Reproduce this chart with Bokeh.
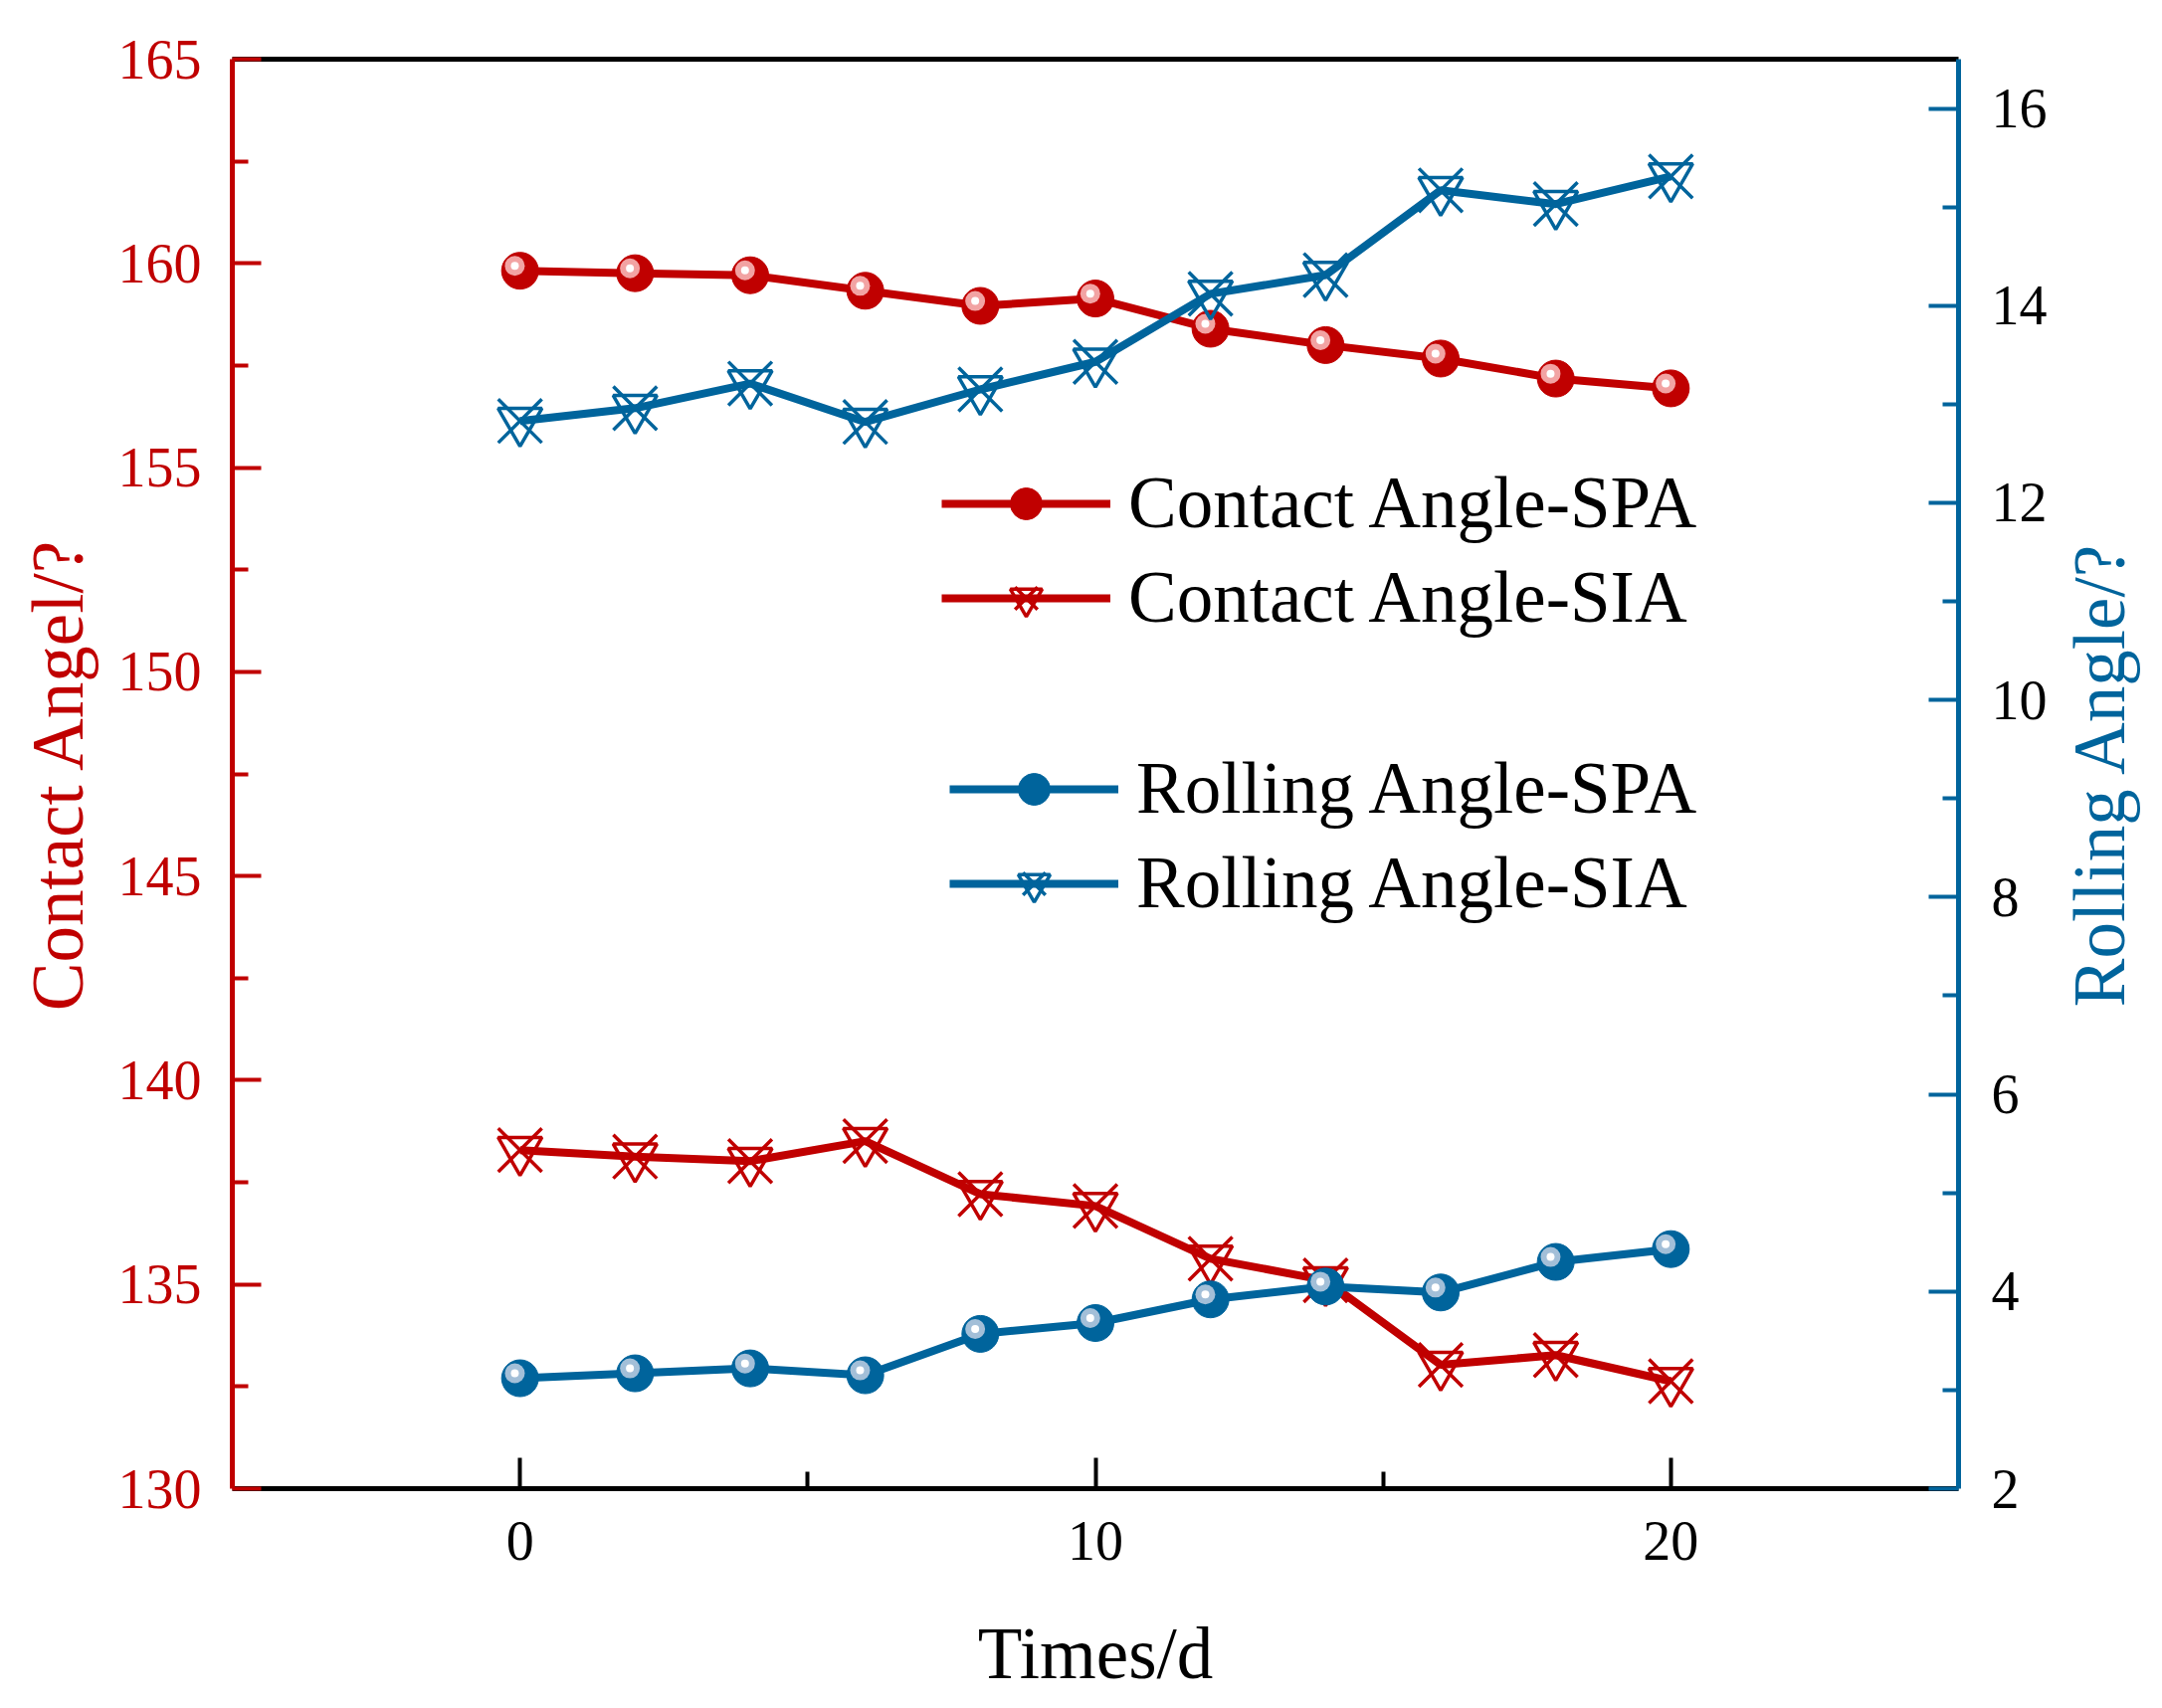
from bokeh.plotting import figure
from bokeh.layouts import row
from bokeh.models import (Range1d, LinearAxis, FixedTicker, Legend, LegendItem,
                          ColumnDataSource)
from bokeh.transform import dodge
from bokeh.embed import file_html
from bokeh.resources import INLINE

# ---------------- data ----------------
days = [0, 2, 4, 6, 8, 10, 12, 14, 16, 18, 20]
contact_spa = [159.82, 159.76, 159.71, 159.33, 158.96, 159.14, 158.40, 158.00, 157.67, 157.18, 156.94]
contact_sia = [138.29, 138.13, 138.02, 138.51, 137.21, 136.92, 135.63, 135.10, 133.03, 133.27, 132.63]
rolling_spa = [3.12, 3.17, 3.22, 3.15, 3.57, 3.68, 3.92, 4.05, 3.99, 4.30, 4.43]
rolling_sia = [12.83, 12.96, 13.21, 12.82, 13.15, 13.43, 14.12, 14.31, 15.17, 15.03, 15.31]

x_ticks = [0, 10, 20]
x_minor = [5, 15]
left_ticks = [130, 135, 140, 145, 150, 155, 160, 165]
left_minor = [132.5, 137.5, 142.5, 147.5, 152.5, 157.5, 162.5]
right_ticks = [2, 4, 6, 8, 10, 12, 14, 16]
right_minor = [3, 5, 7, 9, 11, 13, 15]

labels = ["Contact Angle-SPA", "Contact Angle-SIA", "Rolling Angle-SPA", "Rolling Angle-SIA"]
x_title = "Times/d"
left_title = "Contact Angel/?"
right_title = "Rolling Angle/?"

RED = "#C00000"
RED_HI = "#F2A3A3"
BLUE = "#00649C"
BLUE_HI = "#A3BFD8"
FONT = "Liberation Serif"
H = 1709

p = figure(width=1955, height=H, x_range=Range1d(-5, 25), y_range=Range1d(130, 165),
           output_backend="svg", toolbar_location=None,
           min_border_left=123, min_border_right=97, min_border_top=59, min_border_bottom=213)
p.extra_y_ranges = {"right": Range1d(2, 16.5)}
p.grid.visible = False
p.outline_line_color = None
p.background_fill_color = "white"
p.border_fill_color = "white"


def style_axis(ax, color, label_color, tick_len, minor_len):
    ax.axis_line_color = color
    ax.axis_line_width = 5
    ax.major_tick_line_color = color
    ax.minor_tick_line_color = color
    ax.major_tick_line_width = 4
    ax.minor_tick_line_width = 4
    ax.major_tick_in = tick_len
    ax.major_tick_out = 0
    ax.minor_tick_in = minor_len
    ax.minor_tick_out = 0
    ax.major_label_text_font = FONT
    ax.major_label_text_font_size = "56px"
    ax.major_label_text_color = label_color
    ax.axis_label_text_font = FONT
    ax.axis_label_text_font_size = "73px"
    ax.axis_label_text_font_style = "normal"


# bottom axis
xa = p.xaxis[0]
xa.ticker = FixedTicker(ticks=x_ticks, minor_ticks=x_minor)
style_axis(xa, "black", "black", 31, 17)
xa.major_label_standoff = 33
xa.axis_label = x_title
xa.axis_label_text_color = "black"
xa.axis_label_standoff = 51

# left axis
ya = p.yaxis[0]
ya.ticker = FixedTicker(ticks=left_ticks, minor_ticks=left_minor)
style_axis(ya, RED, RED, 29, 16)
ya.major_label_standoff = 31

# right axis
yr = LinearAxis(y_range_name="right", ticker=FixedTicker(ticks=right_ticks, minor_ticks=right_minor))
style_axis(yr, BLUE, "black", 30, 16)
yr.major_label_standoff = 33
p.add_layout(yr, "right")

# top axis (plain line)
xt = LinearAxis(ticker=FixedTicker(ticks=[]), major_label_text_font_size="0px",
                axis_line_color="black", axis_line_width=5,
                major_tick_line_color=None, minor_tick_line_color=None)
p.add_layout(xt, "above")


def ball_series(vals, color, hi, yname, dy):
    src = ColumnDataSource(dict(x=days, y=vals))
    kw = {} if yname is None else {"y_range_name": yname}
    ln = p.line("x", "y", source=src, line_color=color, line_width=8, **kw)
    outer = p.scatter("x", "y", source=src, marker="circle", size=37,
                      fill_color=color, line_color=color, **kw)
    p.scatter(x=dodge("x", -0.09), y=dodge("y", dy), source=src, marker="circle",
              size=20, fill_color=hi, line_color=None, **kw)
    p.scatter(x=dodge("x", -0.09), y=dodge("y", dy), source=src, marker="circle",
              size=8, fill_color="white", line_color=None, **kw)
    return [ln, outer]


def cross_series(vals, color, yname):
    src = ColumnDataSource(dict(x=days, y=vals))
    kw = {} if yname is None else {"y_range_name": yname}
    ln = p.line("x", "y", source=src, line_color=color, line_width=8, **kw)
    tri = p.scatter("x", "y", source=src, marker="inverted_triangle", size=44,
                    fill_color="white", fill_alpha=0.0, line_color=color, line_width=3.5, **kw)
    xx = p.scatter("x", "y", source=src, marker="x", size=62,
                   line_color=color, line_width=3.5, **kw)
    return [ln, tri, xx]


r_cspa = ball_series(contact_spa, RED, RED_HI, None, 0.12)
r_csia = cross_series(contact_sia, RED, None)
r_rspa = ball_series(rolling_spa, BLUE, BLUE_HI, "right", 0.05)
r_rsia = cross_series(rolling_sia, BLUE, "right")


def make_legend(items, loc):
    lg = Legend(items=items, location=loc, padding=0, margin=0,
                border_line_color=None, background_fill_alpha=0,
                glyph_width=170, glyph_height=80, label_height=80,
                label_standoff=18, spacing=11,
                label_text_font=FONT, label_text_font_size="73px",
                label_text_color="black")
    p.add_layout(lg)


make_legend([LegendItem(label=labels[0], renderers=r_cspa),
             LegendItem(label=labels[1], renderers=r_csia)], (713, 853))
make_legend([LegendItem(label=labels[2], renderers=r_rspa),
             LegendItem(label=labels[3], renderers=r_rsia)], (721, 566))


def title_strip(width, border_left, text, color, standoff):
    """A narrow companion figure whose left axis carries a vertical title
    (reads bottom to top, like the reference)."""
    f = figure(width=width, height=H, x_range=Range1d(0, 1), y_range=Range1d(0, 1),
               output_backend="svg", toolbar_location=None,
               min_border_left=border_left, min_border_right=0,
               min_border_top=30, min_border_bottom=213)
    f.grid.visible = False
    f.outline_line_color = None
    f.border_fill_color = "white"
    f.background_fill_color = "white"
    f.xaxis.visible = False
    ax = f.yaxis[0]
    ax.ticker = FixedTicker(ticks=[])
    ax.axis_line_color = None
    ax.major_tick_line_color = None
    ax.minor_tick_line_color = None
    ax.major_label_text_font_size = "0px"
    ax.major_label_standoff = 0
    ax.axis_label = text
    ax.axis_label_text_font = FONT
    ax.axis_label_text_font_size = "73px"
    ax.axis_label_text_font_style = "normal"
    ax.axis_label_text_color = color
    ax.axis_label_standoff = standoff
    return f


left_strip = title_strip(110, 100, left_title, RED, 2)
right_strip = title_strip(100, 87, right_title, BLUE, 2)

layout = row(left_strip, p, right_strip)
open("out.html", "w").write(file_html(layout, INLINE))
